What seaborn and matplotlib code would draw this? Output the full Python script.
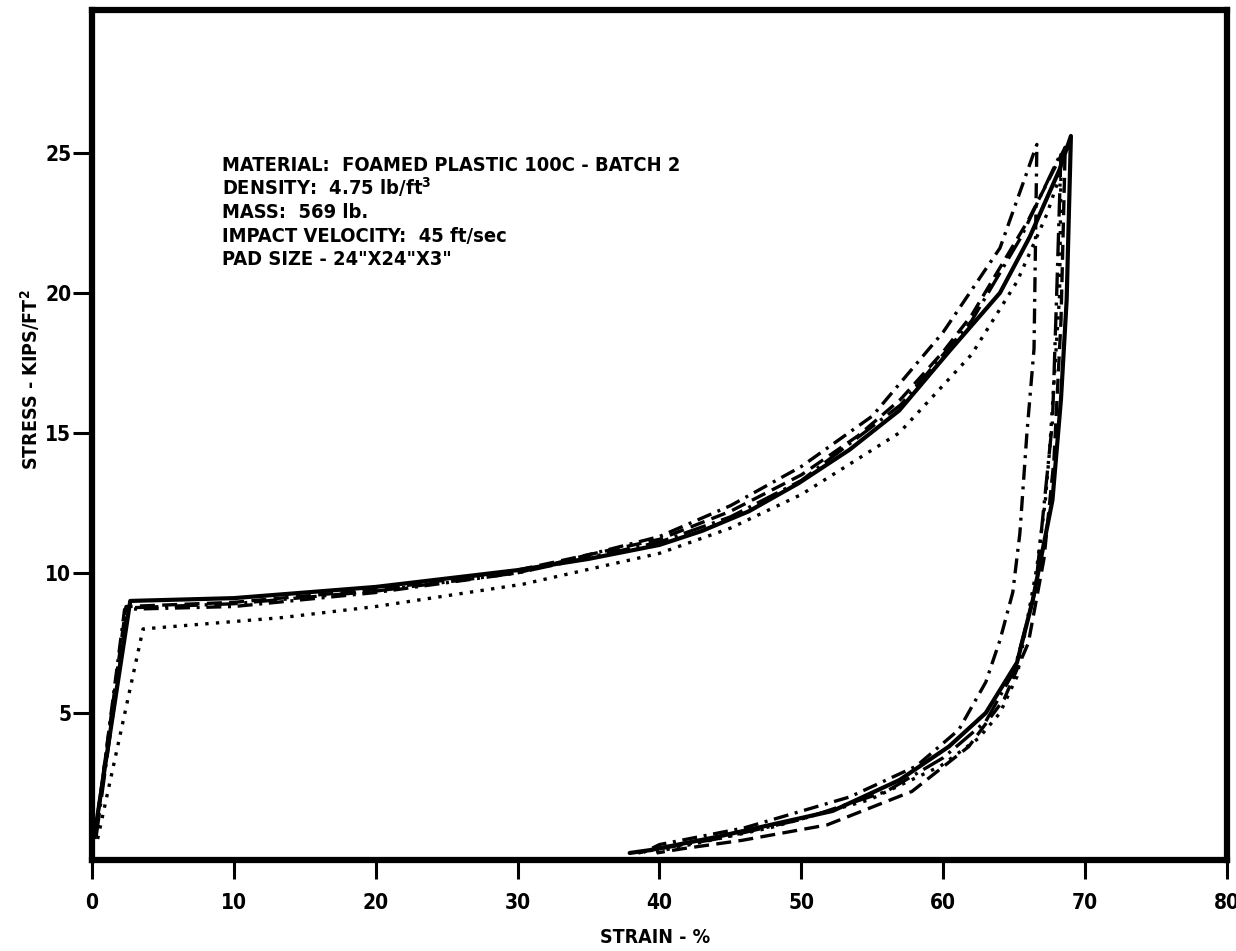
import matplotlib
matplotlib.use("Agg")
import matplotlib.pyplot as plt
import seaborn as sns
import pandas as pd

# ---- data (strain %, stress kips/ft^2) ----
solid_load_x = [0.2, 2.7, 10, 20, 25, 30, 35, 40, 43, 46.3, 49.8, 53.4, 56.9, 60.4, 64.0, 66.1, 68.2, 69.0]
solid_load_y = [0.7, 9.0, 9.1, 9.5, 9.8, 10.1, 10.5, 11.0, 11.5, 12.2, 13.2, 14.4, 15.8, 17.9, 20.0, 22.0, 24.4, 25.6]
solid_unload_x = [68.7, 68.3, 67.7, 66.3, 65.2, 63.0, 60.4, 56.9, 52.2, 44.0, 39.3, 37.9]
solid_unload_y = [19.75, 16.2, 12.6, 9.0, 6.8, 5.0, 3.8, 2.6, 1.5, 0.57, 0.1, 0.0]

dashed_load_x = [0.2, 2.4, 10, 20, 30, 40, 45, 50, 54, 57, 60, 62, 66, 68.6]
dashed_load_y = [0.6, 8.8, 8.95, 9.4, 10.1, 11.2, 12.2, 13.5, 14.9, 16.2, 17.9, 19.2, 22.6, 25.2]
dashed_unload_x = [68.3, 67.8, 67.1, 66.0, 64.3, 61.8, 57.8, 51.8, 45.8, 41.6, 39.8]
dashed_unload_y = [19.0, 14.0, 10.5, 7.5, 5.5, 3.8, 2.2, 1.0, 0.45, 0.15, 0.0]

dashdot_load_x = [0.2, 2.3, 10, 20, 30, 40, 45, 50, 55, 60, 64.0, 66.6]
dashdot_load_y = [0.5, 8.7, 8.8, 9.3, 10.0, 11.3, 12.4, 13.8, 15.6, 18.6, 21.6, 25.3]
dashdot_unload_x = [66.4, 65.9, 65.4, 64.9, 64.0, 63.0, 61.1, 58.1, 53.4, 46.0, 40.0, 38.8]
dashdot_unload_y = [18.0, 15.0, 11.4, 9.3, 7.6, 6.1, 4.4, 3.1, 2.0, 0.9, 0.3, 0.0]

longdd_load_x = [0.3, 2.5, 10, 20, 30, 40, 45, 50, 57, 62, 65.5, 68.3]
longdd_load_y = [0.6, 8.75, 8.9, 9.35, 10.0, 11.1, 12.0, 13.3, 16.0, 19.0, 22.0, 25.0]
longdd_unload_x = [68.0, 67.7, 66.5, 65.0, 63.0, 60.0, 56.0, 50.0, 44.0, 40.0, 38.5]
longdd_unload_y = [20.0, 15.4, 9.4, 6.5, 4.7, 3.4, 2.2, 1.2, 0.5, 0.15, 0.0]

dotted_load_x = [0.4, 3.6, 13.3, 20, 30.4, 40, 45, 50, 56.9, 62, 65.2, 67.3, 68.3]
dotted_load_y = [0.5, 8.0, 8.4, 8.8, 9.6, 10.7, 11.6, 12.8, 15.0, 17.8, 20.4, 22.8, 24.3]
dotted_unload_x = [68.2, 67.5, 67.2, 66.6, 65.2, 64.0, 62.5, 59.8, 54.8, 47.8, 40.3, 39.3]
dotted_unload_y = [19.9, 14.4, 12.6, 10.2, 6.3, 5.0, 4.1, 3.1, 1.9, 0.9, 0.1, 0.0]

x_ticks = [0, 10, 20, 30, 40, 50, 60, 70, 80]
y_ticks = [5, 10, 15, 20, 25]

info_lines = [
    "MATERIAL:  FOAMED PLASTIC 100C - BATCH 2",
    "DENSITY:  4.75 lb/ft$^{3}$",
    "MASS:  569 lb.",
    "IMPACT VELOCITY:  45 ft/sec",
    "PAD SIZE - 24\"X24\"X3\"",
]

# ---- style ----
sns.set_style("white")
plt.rcParams["font.family"] = ["DejaVu Sans"]
plt.rcParams["font.stretch"] = "condensed"
plt.rcParams["font.weight"] = "bold"
plt.rcParams["mathtext.default"] = "bf"
plt.rcParams["text.color"] = "black"
plt.rcParams["axes.labelcolor"] = "black"
plt.rcParams["xtick.color"] = "black"
plt.rcParams["ytick.color"] = "black"

fig = plt.figure(figsize=(12.36, 9.51), dpi=100)
ax = fig.add_axes([0.0744, 0.0957, 0.9183, 0.8938])

curves = [
    (solid_load_x + solid_unload_x, solid_load_y + solid_unload_y, "-", 3.0),
    (dashed_load_x + dashed_unload_x, dashed_load_y + dashed_unload_y, (0, (4.5, 2.2)), 2.4),
    (dashdot_load_x + dashdot_unload_x, dashdot_load_y + dashdot_unload_y, (0, (4.5, 2.0, 0.9, 2.0)), 2.4),
    (longdd_load_x + longdd_unload_x, longdd_load_y + longdd_unload_y, (0, (7.0, 2.0, 0.9, 2.0)), 2.4),
    (dotted_load_x + dotted_unload_x, dotted_load_y + dotted_unload_y, (0, (1.0, 2.2)), 2.4),
]
for xs, ys, ls, lw in curves:
    df = pd.DataFrame({"strain": xs, "stress": ys})
    sns.lineplot(data=df, x="strain", y="stress", sort=False, estimator=None,
                 color="black", linestyle=ls, linewidth=lw, ax=ax, legend=False)

ax.set_xlim(0, 80)
ax.set_ylim(-0.25, 30.1)
ax.set_xticks(x_ticks)
ax.set_yticks(y_ticks)
ax.set_xticklabels([str(t) for t in x_ticks])
ax.set_yticklabels([str(t) for t in y_ticks])

for sp in ax.spines.values():
    sp.set_visible(True)
    sp.set_linewidth(4.5)
    sp.set_color("black")

ax.tick_params(axis="y", direction="out", length=14, width=2.2, pad=1,
               labelsize=15, colors="black", left=True)
ax.tick_params(axis="x", direction="out", length=14, width=2.2, pad=10,
               labelsize=15, colors="black", bottom=True)
for lab in ax.get_xticklabels() + ax.get_yticklabels():
    lab.set_fontweight("bold")
    lab.set_fontstretch("condensed")

ax.set_xlabel("STRAIN - %", fontsize=14, fontweight="bold")
ax.set_ylabel("STRESS - KIPS/FT$^{2}$", fontsize=14, fontweight="bold")
ax.xaxis.set_label_coords(0.496, -0.08)
ax.yaxis.set_label_coords(-0.044, 0.565)

baselines = [0.8106, 0.7824, 0.7553, 0.7271, 0.7000]
for yb, line in zip(baselines, info_lines):
    ax.text(0.1145, yb, line, transform=ax.transAxes,
            fontsize=14.4, fontweight="bold", va="baseline", ha="left")

fig.savefig("out.png", dpi=100)
